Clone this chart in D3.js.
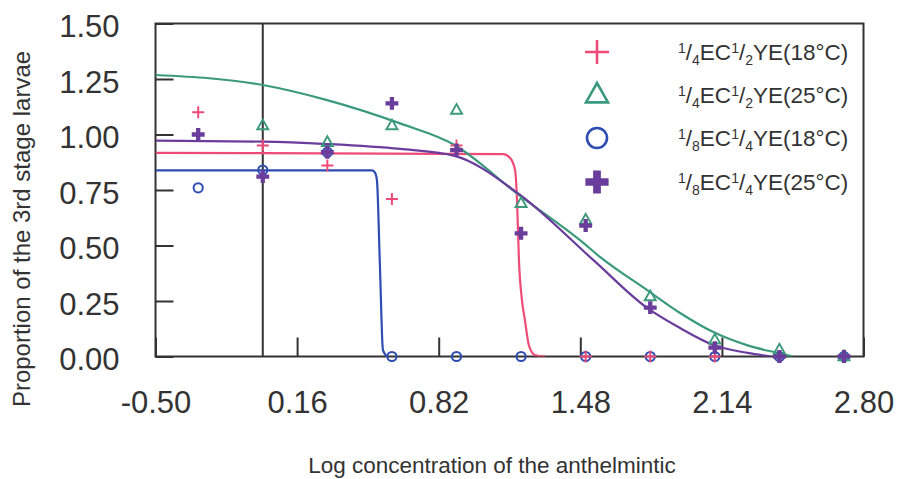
<!DOCTYPE html>
<html>
<head>
<meta charset="utf-8">
<script src="https://cdn.jsdelivr.net/npm/d3@7"></script>
<style>
  html, body { margin: 0; padding: 0; background: #fff; }
  svg { display: block; font-family: "Liberation Sans", Arial, sans-serif; }
</style>
</head>
<body>
<svg id="chart" width="899" height="479"></svg>
<script>
// ---- data ----
const xTicks = [-0.5, 0.16, 0.82, 1.48, 2.14, 2.8];
const yTicks = [0, 0.25, 0.5, 0.75, 1.0, 1.25, 1.5];
const conc = [-0.301, 0, 0.301, 0.602, 0.903, 1.204, 1.505, 1.806, 2.107, 2.408, 2.709];

const red18    = [1.10, 0.95, 0.86, 0.71, 0.95, 0.555, 0, 0, 0, 0, 0];
const green25  = [null, 1.04, 0.965, 1.04, 1.11, 0.69, 0.615, 0.27, 0.075, 0.03, 0];
const blue18   = [0.76, 0.84, 0.92, 0, 0, 0, 0, 0, 0, 0, 0];
const purple25 = [1.00, 0.81, 0.92, 1.14, 0.93, 0.555, 0.59, 0.22, 0.04, 0, 0];

// fitted curves, points
const redFitX = [-0.5, 1.122, 1.153, 1.176, 1.185, 1.194, 1.208, 1.222, 1.24, 1.268, 1.315];
const redFitY = [0.917, 0.912, 0.894, 0.84, 0.705, 0.435, 0.254, 0.164, 0.052, 0.007, 0];
const blueFitX = [-0.5, 0.508, 0.522, 0.532, 0.546, 0.560, 0.574, 0.583];
const blueFitY = [0.838, 0.838, 0.83, 0.795, 0.41, 0.03, 0.005, 0];
const greenFitX = [-0.5, 0.0, 0.3, 0.64, 0.89, 1.19, 1.49, 1.57, 1.79, 1.945, 2.10, 2.26, 2.40, 2.47];
const greenFitY = [1.268, 1.223, 1.155, 1.05, 0.955, 0.73, 0.515, 0.45, 0.30, 0.196, 0.11, 0.05, 0.016, 0];
const purpleFitX = [-0.5, 0, 0.3, 0.64, 0.89, 1.19, 1.54, 1.79, 1.945, 2.10, 2.26, 2.37];
const purpleFitY = [0.972, 0.968, 0.957, 0.935, 0.905, 0.735, 0.435, 0.22, 0.128, 0.052, 0.016, 0];

const legendLabels = [
  {a: "4", b: "2", t: "YE(18°C)"},
  {a: "4", b: "2", t: "YE(25°C)"},
  {a: "8", b: "4", t: "YE(18°C)"},
  {a: "8", b: "4", t: "YE(25°C)"}
];

const colors = { red: "#ef4b78", green: "#3b9a7c", blue: "#2d4db3", purple: "#6a3c9c" };

// ---- drawing ----
const svg = d3.select("#chart");
const L = 155.5, R = 863.5, T = 23.5, B = 356.5;
const x = d3.scaleLinear().domain([-0.5, 2.8]).range([L, R]);
const y = d3.scaleLinear().domain([0, 1.5]).range([B, T]);
const axisColor = "#333";
const fmt = v => d3.format(".2f")(v).replace("\u2212", "-");

svg.append("defs").append("clipPath").attr("id", "plotclip")
  .append("rect").attr("x", L).attr("y", T - 2).attr("width", R - L).attr("height", B - T + 2);

// axes
const yAxis = svg.append("g").attr("transform", `translate(${L},0)`)
  .call(d3.axisLeft(y).tickValues(yTicks).tickFormat(fmt).tickSize(-18).tickPadding(36));
const xAxis = svg.append("g").attr("transform", `translate(0,${B})`)
  .call(d3.axisBottom(x).tickValues(xTicks).tickFormat(fmt).tickSize(-19).tickPadding(34));
[yAxis, xAxis].forEach(g => {
  g.select(".domain").remove();
  g.selectAll(".tick line").attr("stroke", axisColor).attr("stroke-width", 2);
  g.selectAll("text").attr("fill", "#333").attr("font-size", 31)
   .attr("font-family", "'Liberation Sans', Arial, sans-serif");
});
yAxis.selectAll("text").attr("dy", "0.42em");

// frame
svg.append("rect").attr("x", L).attr("y", T).attr("width", R - L).attr("height", B - T)
  .attr("fill", "none").attr("stroke", axisColor).attr("stroke-width", 2);
// vertical reference line at log conc = 0
svg.append("line").attr("x1", x(0)).attr("x2", x(0)).attr("y1", T).attr("y2", B)
  .attr("stroke", axisColor).attr("stroke-width", 2);

// curves
const line = d3.line().x(d => x(d[0])).y(d => y(d[1])).curve(d3.curveMonotoneX);
const curves = svg.append("g").attr("clip-path", "url(#plotclip)");
[[redFitX, redFitY, colors.red], [blueFitX, blueFitY, colors.blue],
 [greenFitX, greenFitY, colors.green], [purpleFitX, purpleFitY, colors.purple]].forEach(([xs, ys, c]) => {
  curves.append("path").datum(xs.map((v, i) => [v, ys[i]]))
    .attr("d", line).attr("fill", "none").attr("stroke", c).attr("stroke-width", 2.2);
});

// marker helpers
function plusPath(h) { return `M${-h},0H${h}M0,${-h}V${h}`; }
function triPath(w) { const h = w * 0.88; return `M0,${-h * 0.62}L${w / 2},${h * 0.38}L${-w / 2},${h * 0.38}Z`; }
const crossSym = s => d3.symbol(d3.symbolCross, s)();

function drawMarker(g, kind, cx, cy, big) {
  if (kind === "red") {
    g.append("path").attr("d", plusPath(big ? 12 : 6)).attr("transform", `translate(${cx},${cy})`)
      .attr("stroke", colors.red).attr("stroke-width", big ? 2.6 : 2).attr("fill", "none");
  } else if (kind === "green") {
    g.append("path").attr("d", triPath(big ? 22 : 11)).attr("transform", `translate(${cx},${cy})`)
      .attr("stroke", colors.green).attr("stroke-width", big ? 2.6 : 1.9).attr("fill", "none")
      .attr("stroke-linejoin", "miter");
  } else if (kind === "blue") {
    g.append("circle").attr("cx", cx).attr("cy", cy).attr("r", big ? 10 : 4.6)
      .attr("stroke", colors.blue).attr("stroke-width", big ? 2.6 : 2).attr("fill", "none");
  } else {
    g.append("path").attr("d", crossSym(big ? 300 : 92)).attr("transform", `translate(${cx},${cy})`)
      .attr("fill", colors.purple);
  }
}

const pts = svg.append("g");
const seriesList = [["blue", blue18], ["red", red18], ["green", green25], ["purple", purple25]];
seriesList.forEach(([k, vals]) => {
  vals.forEach((v, i) => { if (v !== null) drawMarker(pts, k, x(conc[i]), y(v), false); });
});

// legend
const lg = svg.append("g");
const legendKinds = ["red", "green", "blue", "purple"];
const rowY = [52, 95, 138, 182];
legendKinds.forEach((k, i) => {
  drawMarker(lg, k, 597, rowY[i], true);
  const t = lg.append("text").attr("x", 678).attr("y", rowY[i] + 8)
    .attr("font-size", 22.5).attr("fill", "#333");
  const lab = legendLabels[i];
  t.append("tspan").attr("font-size", 14).attr("dy", -7).text("1");
  t.append("tspan").attr("dy", 7).text("/");
  t.append("tspan").attr("font-size", 14).attr("dy", 5).text(lab.a);
  t.append("tspan").attr("dy", -5).text("EC");
  t.append("tspan").attr("font-size", 14).attr("dy", -7).text("1");
  t.append("tspan").attr("dy", 7).text("/");
  t.append("tspan").attr("font-size", 14).attr("dy", 5).text(lab.b);
  t.append("tspan").attr("dy", -5).text(lab.t);
});

// axis titles
svg.append("text").attr("x", 492).attr("y", 473).attr("text-anchor", "middle")
  .attr("font-size", 22.5).attr("fill", "#333").text("Log concentration of the anthelmintic");
svg.append("text").attr("transform", "translate(30,229) rotate(-90)").attr("text-anchor", "middle")
  .attr("font-size", 24).attr("fill", "#333").text("Proportion of the 3rd stage larvae");
</script>
</body>
</html>
